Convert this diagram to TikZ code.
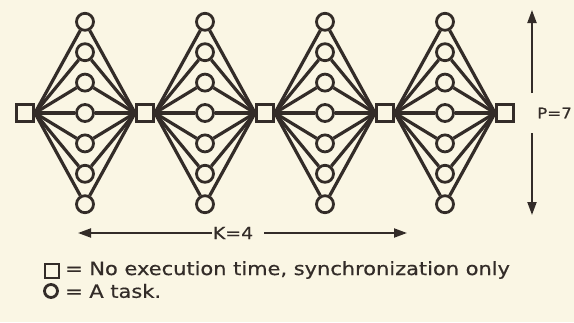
\documentclass[tikz,border=0pt]{standalone}
\usepackage{fontspec}
\setmainfont{DejaVu Sans}[FakeStretch=1.15,FakeBold=0.6]
\usetikzlibrary{arrows.meta}
\definecolor{paper}{HTML}{FAF6E4}
\definecolor{ink}{HTML}{332C28}
\tikzset{
	sync/.style={draw=ink,line width=2.8pt,fill=paper,minimum size=17pt,inner sep=0pt},
	task/.style={circle,draw=ink,line width=2.8pt,fill=paper,minimum size=17pt,inner sep=0pt},
	edge/.style={draw=ink,line width=3.2pt},
	dim/.style={draw=ink,line width=2pt,-{Triangle[length=13pt,width=9pt]}},
	txt/.style={text=ink,inner sep=1pt}
}
\begin{document}
\begin{tikzpicture}[x=1pt,y=-1pt,font=\fontsize{18.2}{21}\selectfont]
\fill[paper] (0,0) rectangle (574,322);
\useasboundingbox (0,0) rectangle (574,322);
% synchronisation squares
\foreach \k in {0,...,4}
	\node[sync] (s\k) at ({25+120*\k},113) {};
% tasks, P=7 per stage
\foreach \k in {1,...,4}
	\foreach \i in {1,...,7}
		\node[task] (c\k\i) at ({120*\k-35},{113+30.4*(\i-4)}) {};
\foreach \k/\j in {1/0,2/1,3/2,4/3}
	\foreach \i in {1,...,7} {
		\draw[edge] (s\j.east) -- (c\k\i);
		\draw[edge] (c\k\i) -- (s\k.west);
	}
% P arrow
\node[txt,anchor=west,font=\fontsize{14.5}{17}\selectfont] (plabel) at (536,113) {P=7};
\coordinate (ptop) at (532,10);
\coordinate (pup) at (532,93);
\coordinate (pdown) at (532,133);
\coordinate (pbot) at (532,215);
\draw[dim] (pup) -- (ptop);
\draw[dim] (pdown) -- (pbot);
% K arrow
\node[txt,font=\fontsize{16.5}{19}\selectfont] (klabel) at (233,233) {K=4};
\coordinate (kleft) at (78,233);
\coordinate (kright) at (407,233);
\draw[dim] (klabel.west) -- (kleft);
\draw[dim] ([xshift=10pt]klabel.east) -- (kright);
% legend
\node[sync,minimum size=14pt] (lsq) at (52,271) {};
\node[txt,anchor=west] (lsqtxt) at (64,270) {= No execution time, synchronization only};
\node[task,minimum size=13pt] (lci) at (51,291) {};
\node[txt,anchor=west] (lcitxt) at (64,291) {= A task.};
\end{tikzpicture}
\end{document}
